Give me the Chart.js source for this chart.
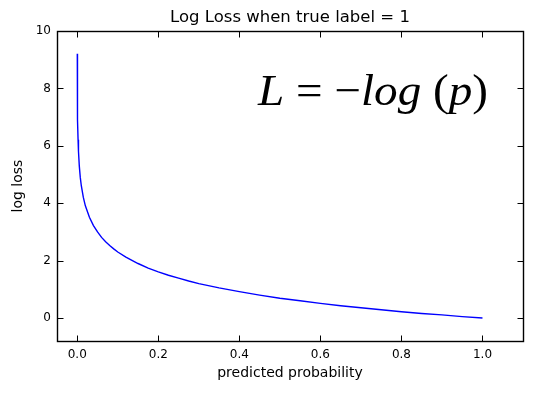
<!DOCTYPE html>
<html>
<head>
<meta charset="utf-8">
<script src="https://cdn.jsdelivr.net/npm/chart.js@4.4.0/dist/chart.umd.min.js"></script>
<style>
  html, body { margin: 0; padding: 0; background: #ffffff; }
  #wrap { width: 556px; height: 397px; }
</style>
</head>
<body>
<div id="wrap"><canvas id="c" width="556" height="397"></canvas></div>
<script>
// ---- data ----
const probX = [0.0001, 0.0002, 0.0005, 0.001, 0.002, 0.003, 0.005, 0.0075, 0.01, 0.015, 0.02, 0.03, 0.04, 0.05, 0.06, 0.07, 0.08, 0.09, 0.1, 0.12, 0.15, 0.175, 0.2, 0.225, 0.25, 0.275, 0.3, 0.35, 0.4, 0.45, 0.5, 0.55, 0.6, 0.65, 0.7, 0.75, 0.8, 0.85, 0.9, 0.95, 1.0];
const lossY = [9.21, 8.52, 7.60, 6.91, 6.21, 5.81, 5.30, 4.89, 4.61, 4.20, 3.91, 3.51, 3.22, 3.00, 2.81, 2.66, 2.53, 2.41, 2.30, 2.12, 1.90, 1.74, 1.61, 1.49, 1.39, 1.29, 1.20, 1.05, 0.92, 0.80, 0.69, 0.60, 0.51, 0.43, 0.36, 0.29, 0.22, 0.16, 0.11, 0.05, 0.00];
const xTickValues = [0.0, 0.2, 0.4, 0.6, 0.8, 1.0];
const xTickLabels = ['0.0', '0.2', '0.4', '0.6', '0.8', '1.0'];
const yTickValues = [0, 2, 4, 6, 8, 10];
const yTickLabels = ['0', '2', '4', '6', '8', '10'];
const titleText = 'Log Loss when true label = 1';
const xTitle = 'predicted probability';
const yTitle = 'log loss';

const FONT = "'DejaVu Sans', sans-serif";

// frame + inward ticks on all four sides
const framePlugin = {
  id: 'frame',
  afterDraw(chart) {
    const ctx = chart.ctx, a = chart.chartArea;
    const xs = chart.scales.x, ys = chart.scales.y;
    const L = Math.round(a.left) + 0.5, R = Math.round(a.right) + 0.5;
    const T = Math.round(a.top) + 0.5, B = Math.round(a.bottom) + 0.5;
    const len = 6;
    ctx.save();
    ctx.strokeStyle = '#000';
    ctx.lineWidth = 1;
    ctx.beginPath();
    xTickValues.forEach(v => {
      const px = Math.round(xs.getPixelForValue(v)) + 0.5;
      ctx.moveTo(px, B); ctx.lineTo(px, B - len);
      ctx.moveTo(px, T); ctx.lineTo(px, T + len);
    });
    yTickValues.forEach(v => {
      const py = Math.round(ys.getPixelForValue(v)) + 0.5;
      ctx.moveTo(L, py); ctx.lineTo(L + len, py);
      ctx.moveTo(R, py); ctx.lineTo(R - len, py);
    });
    ctx.stroke();
    ctx.lineWidth = 1.4;
    ctx.strokeRect(L, T, R - L, B - T);
    ctx.restore();
  }
};

// formula annotation
const formulaPlugin = {
  id: 'formula',
  afterDraw(chart) {
    const ctx = chart.ctx;
    const pieces = [
      { t: 'L', it: true }, { t: ' = ', it: false }, { t: '\u2212', it: false },
      { t: 'log', it: true }, { t: ' (', it: false }, { t: 'p', it: true }, { t: ')', it: false }
    ];
    const size = 44;
    const fam = "'Liberation Serif', 'DejaVu Serif', serif";
    ctx.save();
    let total = 0;
    pieces.forEach(p => {
      ctx.font = (p.it ? 'italic ' : '') + size + 'px ' + fam;
      p.w = ctx.measureText(p.t).width;
      total += p.w;
    });
    const x0 = 258, baseY = 105, target = 230;
    const sx = target / total;
    ctx.translate(x0, baseY);
    ctx.scale(sx, 1);
    ctx.fillStyle = '#000';
    ctx.textBaseline = 'alphabetic';
    let x = 0;
    pieces.forEach(p => {
      ctx.font = (p.it ? 'italic ' : '') + size + 'px ' + fam;
      ctx.fillText(p.t, x, 0);
      x += p.w;
    });
    ctx.restore();
  }
};

new Chart(document.getElementById('c'), {
  type: 'line',
  data: {
    datasets: [{
      data: probX.map((p, i) => ({ x: p, y: lossY[i] })),
      borderColor: '#0000ff',
      borderWidth: 1.4,
      pointRadius: 0,
      tension: 0,
      fill: false
    }]
  },
  options: {
    responsive: false,
    devicePixelRatio: 1,
    animation: false,
    layout: { padding: { top: 0, right: 33, bottom: 0, left: 0 } },
    plugins: {
      legend: { display: false },
      tooltip: { enabled: false },
      title: {
        display: true,
        fullSize: false,
        text: titleText,
        color: '#000',
        font: { family: FONT, size: 16.5, weight: 'normal', lineHeight: 1.2 },
        padding: { top: 8.2, bottom: 3.0 }
      }
    },
    scales: {
      x: {
        type: 'linear',
        min: -0.05,
        max: 1.1,
        grid: { display: false, drawTicks: false },
        border: { display: false },
        afterBuildTicks(s) { s.ticks = xTickValues.map(v => ({ value: v })); },
        afterFit(s) { s.height = 56; },
        ticks: {
          color: '#000',
          font: { family: FONT, size: 12 },
          padding: 7,
          maxRotation: 0,
          callback: (v) => xTickLabels[xTickValues.indexOf(v)] ?? ''
        },
        title: {
          display: true,
          text: xTitle,
          color: '#000',
          font: { family: FONT, size: 14, lineHeight: 1.2 },
          padding: { top: 0, bottom: 15 }
        }
      },
      y: {
        type: 'linear',
        min: -0.8,
        max: 10,
        grid: { display: false, drawTicks: false },
        border: { display: false },
        afterBuildTicks(s) { s.ticks = yTickValues.map(v => ({ value: v })); },
        afterFit(s) { s.width = 57; },
        ticks: {
          color: '#000',
          font: { family: FONT, size: 12 },
          padding: 6,
          callback: (v) => yTickLabels[yTickValues.indexOf(v)] ?? ''
        },
        title: {
          display: true,
          text: yTitle,
          color: '#000',
          font: { family: FONT, size: 14, lineHeight: 1.2 },
          padding: { top: 10, bottom: 0 }
        }
      }
    }
  },
  plugins: [framePlugin, formulaPlugin]
});
</script>
</body>
</html>
